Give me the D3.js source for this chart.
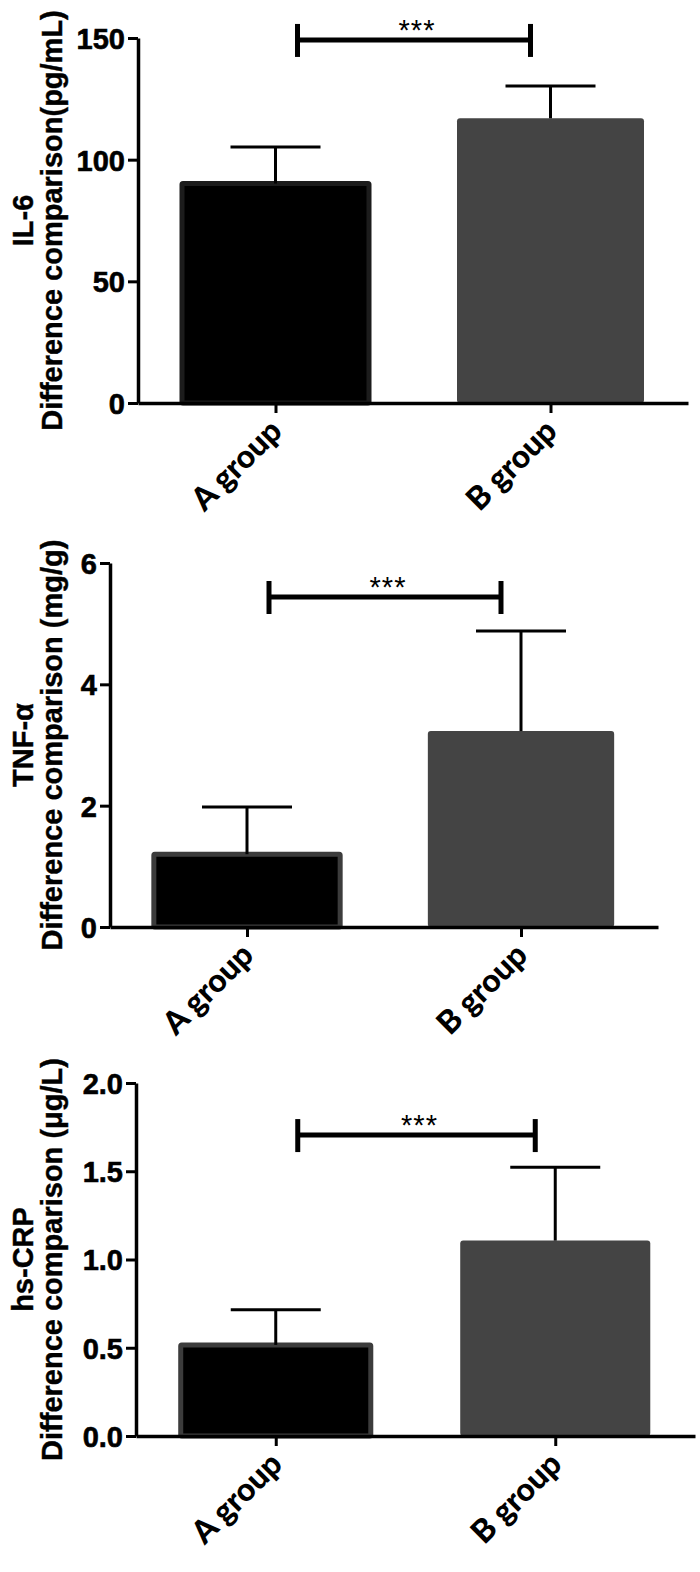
<!DOCTYPE html>
<html>
<head>
<meta charset="utf-8">
<script src="https://cdn.jsdelivr.net/npm/d3@7"></script>
<style>
  body { margin: 0; background: #fff; }
  svg { display: block; }
  .tick text { font-family: "Liberation Sans", Arial, sans-serif; font-weight: bold; }
</style>
</head>
<body>
<div id="chart"></div>
<script>
// data
const groups = ['A group', 'B group']
const il6Mean = [90.2, 117.0]
const il6Err = [15.0, 13.3]
const tnfMean = [1.2, 3.23]
const tnfErr = [0.78, 1.65]
const crpMean = [0.516, 1.107]
const crpErr = [0.20, 0.415]
const yTitles = [
  ['IL-6', 'Difference comparison(pg/mL)'],
  ['TNF-α', 'Difference comparison (mg/g)'],
  ['hs-CRP', 'Difference comparison (μg/L)']
]
const yMax = [150, 6, 2]
const yTicks = [[0, 50, 100, 150], [0, 2, 4, 6], [0, 0.5, 1.0, 1.5, 2.0]]
const tickFormats = ['d', 'd', '.1f']
const sigLevel = [149.2, 5.44, 1.705]
const sigLabel = '***'

// layout of the three panels (pixels)
const panels = [
  {left: 138, right: 688, top: 38, bottom: 403, aStroke: '#1c1c1c'},
  {left: 110, right: 658, top: 563, bottom: 927, aStroke: '#3c3c3c'},
  {left: 136, right: 695, top: 1083, bottom: 1436, aStroke: '#3c3c3c'}
]
const means = [il6Mean, tnfMean, crpMean]
const errs = [il6Err, tnfErr, crpErr]
const barFill = ['#000000', '#444444']

const width = 700
const height = 1572

let svg = d3.select('#chart')
  .append('svg')
  .attr('width', width)
  .attr('height', height)

let drawPanel = function (p, i) {
  let g = svg.append('g')
  let x = d3.scalePoint().domain(groups).range([p.left, p.right]).padding(0.5)
  let y = d3.scaleLinear().domain([0, yMax[i]]).range([p.bottom, p.top])
  let barW = x.step() * 0.68
  let data = groups.map((name, j) => ({name: name, mean: means[i][j], err: errs[i][j], j: j}))

  // bars
  g.selectAll('.bar')
    .data(data)
    .enter()
    .append('rect')
    .attr('x', d => x(d.name) - barW / 2)
    .attr('y', d => y(d.mean))
    .attr('width', barW)
    .attr('height', d => y(0) - y(d.mean))
    .attr('rx', d => d.j === 1 ? 3 : 1)
    .style('fill', d => barFill[d.j])
    .style('stroke', d => d.j === 0 ? p.aStroke : 'none')
    .style('stroke-width', 5)

  // error bars (upper only)
  let eb = g.selectAll('.err')
    .data(data)
    .enter()
    .append('g')
  eb.append('line')
    .attr('x1', d => x(d.name)).attr('x2', d => x(d.name))
    .attr('y1', d => y(d.mean)).attr('y2', d => y(d.mean + d.err))
    .style('stroke', '#000').style('stroke-width', 3)
  eb.append('line')
    .attr('x1', d => x(d.name) - 45).attr('x2', d => x(d.name) + 45)
    .attr('y1', d => y(d.mean + d.err)).attr('y2', d => y(d.mean + d.err))
    .style('stroke', '#000').style('stroke-width', 3)

  // y axis
  let ya = g.append('g')
    .attr('transform', `translate(${p.left},0)`)
    .call(d3.axisLeft(y).tickValues(yTicks[i]).tickFormat(d3.format(tickFormats[i])).tickSize(10).tickSizeOuter(0).tickPadding(3))
  ya.select('.domain').style('stroke-width', 3.5)
  ya.selectAll('.tick line').style('stroke-width', 3)
  ya.selectAll('.tick text')
    .style('font-size', '29px')
    .style('stroke', '#000')
    .style('stroke-width', 0.6)
    .attr('dy', '0.36em')

  // x axis
  let xa = g.append('g')
    .attr('transform', `translate(0,${p.bottom})`)
    .call(d3.axisBottom(x).tickSize(10).tickSizeOuter(0))
  xa.select('.domain').style('stroke-width', 3.5)
  xa.selectAll('.tick line').style('stroke-width', 3)
  xa.selectAll('.tick text')
    .style('font-family', 'Lato, "Open Sans", sans-serif')
    .style('font-weight', '900')
    .style('font-size', '32px')
    .style('text-anchor', 'end')
    .attr('dy', null)
    .attr('y', 0)
    .attr('transform', 'translate(8,30) rotate(-45)')

  // y title, two lines
  let cy = (p.top + p.bottom) / 2
  yTitles[i].forEach((t, k) => {
    g.append('text')
      .attr('transform', `translate(${k === 0 ? 33 : 62},${cy}) rotate(-90)`)
      .style('text-anchor', 'middle')
      .style('font-family', '"Liberation Sans", Arial, sans-serif')
      .style('font-weight', 'bold')
      .style('font-size', '29px')
      .style('stroke', '#000')
      .style('stroke-width', 0.4)
      .text(t)
  })

  // significance bracket
  let x1 = x(groups[0]) + 22
  let x2 = x(groups[1]) - 20
  let sy = y(sigLevel[i])
  g.append('line').attr('x1', x1).attr('x2', x2).attr('y1', sy).attr('y2', sy)
    .style('stroke', '#000').style('stroke-width', 5)
  ;[x1, x2].forEach(xx => {
    g.append('line').attr('x1', xx).attr('x2', xx).attr('y1', sy - 16).attr('y2', sy + 17)
      .style('stroke', '#000').style('stroke-width', 5)
  })
  g.append('text')
    .attr('x', (x1 + x2) / 2 + 3)
    .attr('y', sy)
    .style('text-anchor', 'middle')
    .style('font-family', '"Liberation Sans", Arial, sans-serif')
    .style('font-size', '29px')
    .style('letter-spacing', '1px')
    .text(sigLabel)
}

panels.forEach(drawPanel)
</script>
</body>
</html>
